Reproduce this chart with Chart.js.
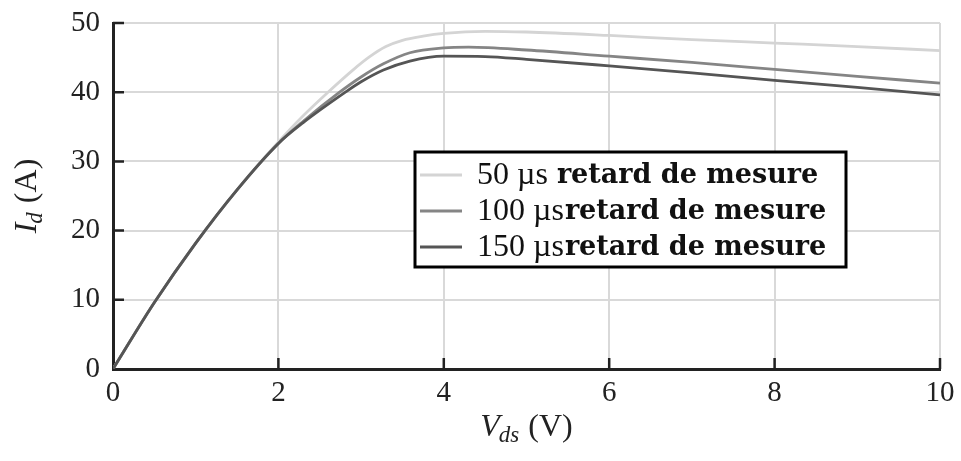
<!DOCTYPE html>
<html>
<head>
<meta charset="utf-8">
<script src="https://cdn.jsdelivr.net/npm/chart.js@4"></script>
<style>
  html, body { margin: 0; padding: 0; background: #fff; }
  #wrap { width: 961px; height: 461px; }
</style>
</head>
<body>
<div id="wrap"><canvas id="idvdsChart" width="961" height="461"></canvas></div>
<script>
// Id-Vds curves for three measurement delays
const vds50 = [0, 0.5, 1, 1.5, 2, 2.3, 2.6, 2.9, 3.1, 3.3, 3.5, 3.75, 4, 4.5, 5, 6, 7, 8, 9, 10];
const id50 = [0, 9.6, 18.2, 25.9, 32.8, 36.6, 40.0, 43.2, 45.1, 46.6, 47.5, 48.1, 48.5, 48.8, 48.7, 48.2, 47.6, 47.1, 46.6, 46.0];

const vds100 = [0, 0.5, 1, 1.5, 2, 2.3, 2.74, 3, 3.27, 3.59, 4, 4.3, 5, 6, 7, 8, 9, 10];
const id100 = [0, 9.6, 18.2, 25.9, 32.6, 35.8, 40.0, 42.2, 44.1, 45.7, 46.4, 46.5, 46.1, 45.2, 44.3, 43.3, 42.3, 41.3];

const vds150 = [0, 0.5, 1, 1.5, 2, 2.3, 2.81, 3, 3.27, 3.59, 4, 4.5, 5, 6, 7, 8, 9, 10];
const id150 = [0, 9.6, 18.2, 25.9, 32.6, 35.6, 40.0, 41.5, 43.2, 44.5, 45.2, 45.15, 44.75, 43.8, 42.8, 41.7, 40.7, 39.6];

const delays = ['50 µs ', '100 µs', '150 µs'];
const delaySuffix = 'retard de mesure';
const lineColors = ['#d4d4d4', '#858585', '#555555'];

const xTicks = [0, 2, 4, 6, 8, 10];
const yTicks = [0, 10, 20, 30, 40, 50];

const SERIF = '"Liberation Serif", "Times New Roman", serif';

function pts(xs, ys) {
    return xs.map((x, i) => ({ x: x, y: ys[i] }));
}

const series = [pts(vds50, id50), pts(vds100, id100), pts(vds150, id150)];

const data = {
    datasets: series.map((s, i) => ({
        type: 'line',
        label: delays[i] + delaySuffix,
        data: s,
        borderColor: lineColors[i],
        borderWidth: 2.8,
        fill: false,
        radius: 0,
        cubicInterpolationMode: 'monotone',
        order: 3 - i
    }))
};

// inward ticks, axis titles with subscripts, framed legend
const decorations = {
    id: 'decorations',
    afterDraw(chart) {
        const ctx = chart.ctx;
        const area = chart.chartArea;
        const xs = chart.scales.x;
        const ys = chart.scales.y;
        ctx.save();

        // inward tick marks
        ctx.strokeStyle = '#222';
        ctx.lineWidth = 2.5;
        ctx.beginPath();
        xTicks.forEach(v => {
            if (v === 0) return;
            const px = xs.getPixelForValue(v);
            ctx.moveTo(px, area.bottom);
            ctx.lineTo(px, area.bottom - 11);
        });
        yTicks.forEach(v => {
            if (v === 0) return;
            const py = ys.getPixelForValue(v);
            ctx.moveTo(area.left, py);
            ctx.lineTo(area.left + 11, py);
        });
        ctx.stroke();

        // axis titles
        ctx.fillStyle = '#222';
        ctx.textBaseline = 'alphabetic';
        const drawTitle = (main, sub, rest) => {
            ctx.font = 'italic 32px ' + SERIF;
            const w1 = ctx.measureText(main).width;
            ctx.font = 'italic 23px ' + SERIF;
            const w2 = ctx.measureText(sub).width;
            ctx.font = '32px ' + SERIF;
            const w3 = ctx.measureText(rest).width;
            const total = w1 + w2 + w3;
            let x0 = -total / 2;
            ctx.font = 'italic 32px ' + SERIF;
            ctx.fillText(main, x0, 0);
            ctx.font = 'italic 23px ' + SERIF;
            ctx.fillText(sub, x0 + w1 - 1, 6);
            ctx.font = '32px ' + SERIF;
            ctx.fillText(rest, x0 + w1 + w2, 0);
        };

        ctx.save();
        ctx.translate((area.left + area.right) / 2, 436);
        drawTitle('V', 'ds', ' (V)');
        ctx.restore();

        ctx.save();
        ctx.translate(36, (area.top + area.bottom) / 2);
        ctx.rotate(-Math.PI / 2);
        drawTitle('I', 'd', ' (A)');
        ctx.restore();

        // legend box
        const bx = 415, by = 152, bw = 431, bh = 115;
        ctx.fillStyle = '#fff';
        ctx.fillRect(bx, by, bw, bh);
        ctx.strokeStyle = '#000';
        ctx.lineWidth = 3;
        ctx.strokeRect(bx, by, bw, bh);

        delays.forEach((d, i) => {
            const rowY = by + 23 + i * 36;
            ctx.strokeStyle = lineColors[i];
            ctx.lineWidth = 2.8;
            ctx.beginPath();
            ctx.moveTo(bx + 5, rowY);
            ctx.lineTo(bx + 47, rowY);
            ctx.stroke();

            ctx.fillStyle = '#111';
            ctx.textBaseline = 'middle';
            ctx.font = '32px ' + SERIF;
            const tx = bx + 62;
            ctx.fillText(d, tx, rowY + 1);
            const w = ctx.measureText(d).width;
            ctx.font = 'bold 27px "DejaVu Serif"';
            ctx.fillText(delaySuffix, tx + w + 1, rowY + 1);
        });

        ctx.restore();
    }
};

const config = {
    data: data,
    options: {
        responsive: false,
        animation: false,
        layout: {
            padding: { top: 23, right: 21, left: 0, bottom: 0 }
        },
        plugins: {
            legend: { display: false },
            tooltip: { enabled: false }
        },
        scales: {
          x: {
            type: 'linear',
            min: 0,
            max: 10,
            afterFit: scale => {
                scale.height = 92;
                scale.paddingLeft = 0;
                scale.paddingRight = 0;
            },
            afterBuildTicks: scale => { scale.ticks = xTicks.map(v => ({ value: v })); },
            grid: {
                color: '#d9d9d9',
                lineWidth: 2,
                drawTicks: false
            },
            border: { display: true, color: '#222', width: 3 },
            ticks: {
              color: '#222',
              padding: 7,
              maxRotation: 0,
              font: { family: SERIF, size: 29 }
            }
          },
          y: {
            type: 'linear',
            min: 0,
            max: 50,
            afterFit: scale => {
                scale.width = 113;
                scale.paddingTop = 0;
                scale.paddingBottom = 0;
            },
            afterBuildTicks: scale => { scale.ticks = yTicks.map(v => ({ value: v })); },
            grid: {
                color: '#d9d9d9',
                lineWidth: 2,
                drawTicks: false
            },
            border: { display: true, color: '#222', width: 3 },
            ticks: {
              color: '#222',
              padding: 13,
              font: { family: SERIF, size: 29 }
            }
          }
        }
      },
    plugins: [decorations]
};

const idvdsChart = new Chart(document.getElementById('idvdsChart').getContext('2d'), config);
</script>
</body>
</html>
